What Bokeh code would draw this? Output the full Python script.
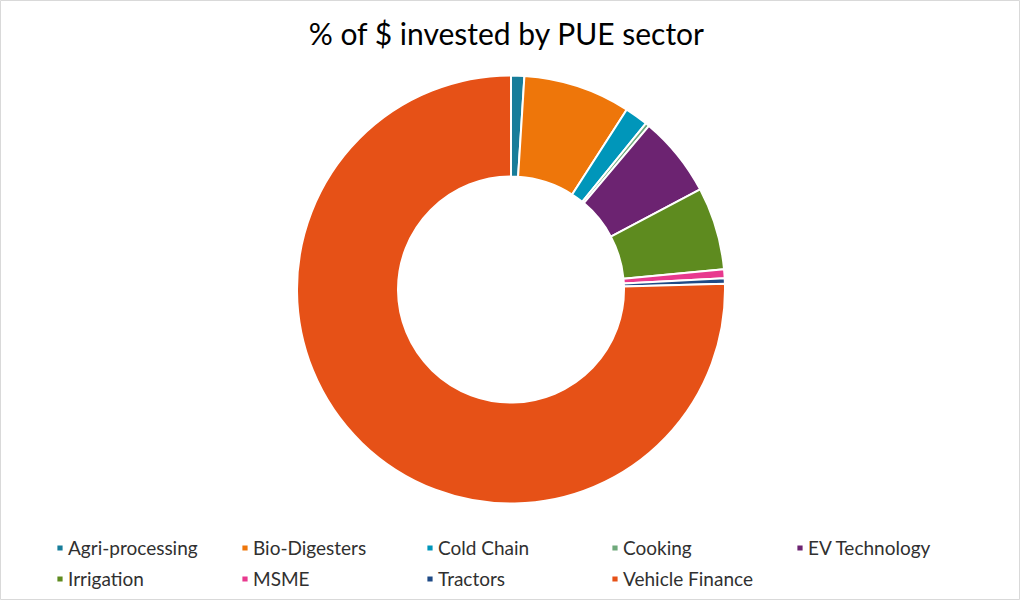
import numpy as np
from bokeh.plotting import figure
from bokeh.models import ColumnDataSource, Range1d, Legend, LegendItem
from bokeh.core.properties import value
from bokeh.embed import file_html
from bokeh.resources import INLINE

title = "% of $ invested by PUE sector"
sectors = ["Agri-processing", "Bio-Digesters", "Cold Chain", "Cooking", "EV Technology",
           "Irrigation", "MSME", "Tractors", "Vehicle Finance"]
shares = [1.0, 8.1, 1.75, 0.3, 6.1, 6.25, 0.67, 0.4, 75.43]
colors = ["#177D9A", "#EE760A", "#0096BA", "#6FA97B", "#6C2371",
          "#5E8B1F", "#E8398E", "#1F4A86", "#E65117"]

FONT = "Lato"
W, H = 1020, 600

frac = np.array(shares) / sum(shares)
ends = np.cumsum(frac) * 2 * np.pi
starts = ends - frac * 2 * np.pi
source = ColumnDataSource(data=dict(
    sector=sectors, color=colors,
    start=np.pi / 2 - starts, end=np.pi / 2 - ends,
))

p = figure(width=W, height=H, x_range=Range1d(0, W), y_range=Range1d(0, H),
           output_backend="svg", toolbar_location=None, min_border=0)
p.axis.visible = False
p.grid.visible = False
p.outline_line_color = "#D9D9D9"
p.background_fill_color = "white"

cx, cy = 510.5, H - 289
donut = p.annular_wedge(x=cx, y=cy, inner_radius=113, outer_radius=214,
                        start_angle="start", end_angle="end", direction="clock",
                        color="color", line_color="white", line_width=2, source=source)

p.text(x=[cx - 4], y=[H - 32], text=[title], text_align="center", text_baseline="middle",
       text_font=value(FONT), text_font_size="30px", text_color="#000000")

items = [LegendItem(label=name, renderers=[donut], index=i) for i, name in enumerate(sectors)]

legend = Legend(items=items, ncols=5, location=(55, 10), orientation="horizontal",
                glyph_width=9, glyph_height=9, label_standoff=4, label_width=164,
                label_height=20, spacing=8, padding=0, margin=0,
                border_line_alpha=0, background_fill_alpha=0,
                label_text_font=FONT, label_text_font_size="19px",
                label_text_color="#303030")
p.add_layout(legend, "center")

open("out.html", "w").write(file_html(p, INLINE))
